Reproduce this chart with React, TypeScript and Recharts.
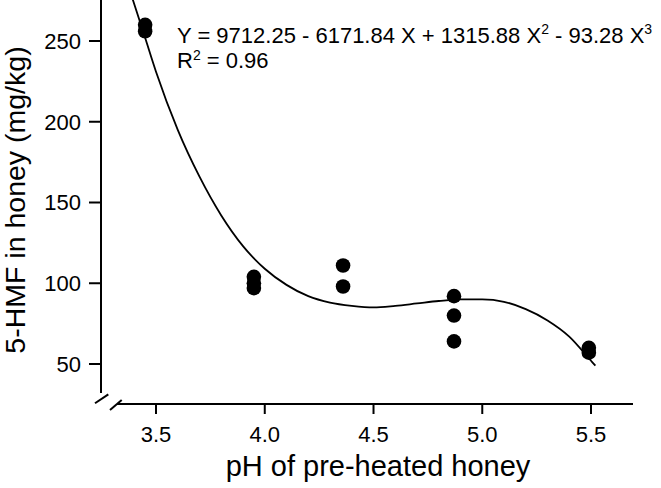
import React from "react";
import {
  ComposedChart,
  XAxis,
  YAxis,
  Scatter,
  ReferenceLine,
  Customized,
} from "recharts";

// Observed samples
const PH_VALUES = [3.45, 3.45, 3.95, 3.95, 3.95, 4.36, 4.36, 4.87, 4.87, 4.87, 5.49, 5.49];
const HMF_VALUES = [260, 256, 104, 100, 97, 111, 98, 92, 80, 64, 60, 57];

// Fitted curve
const CURVE_PH = [3.39, 3.45, 3.5, 3.6, 3.7, 3.8, 3.9, 4.0, 4.1, 4.2, 4.3, 4.4, 4.5, 4.6, 4.7, 4.8, 4.9, 5.0, 5.1, 5.2, 5.3, 5.4, 5.5, 5.52];
const CURVE_HMF = [277, 252, 231, 195, 166, 142, 123, 109, 99, 92, 88, 86, 85, 86, 87.5, 89, 90, 90, 88.5, 84, 77, 67, 52, 49];

const X_TICKS = [3.5, 4.0, 4.5, 5.0, 5.5];
const Y_TICKS = [50, 100, 150, 200, 250];

const X_DOMAIN: [number, number] = [3.2471, 5.693];
const Y_DOMAIN: [number, number] = [25.23, 275.39];

const EQUATION_MAIN = "Y = 9712.25 - 6171.84 X + 1315.88 X";
const EQUATION_MID = " - 93.28 X";
const R2_TEXT = "R";
const R2_VALUE = " = 0.96";
const X_LABEL = "pH of pre-heated honey";
const Y_LABEL = "5-HMF in honey (mg/kg)";

const FONT = "'Liberation Sans', Arial, Helvetica, sans-serif";

const points = PH_VALUES.map((x, i) => ({ x, y: HMF_VALUES[i] }));
const curve = CURVE_PH.map((x, i) => ({ x, y: CURVE_HMF[i] }));

// axis-break geometry, in data units near the corner
const Y_AXIS_BOTTOM = 32.04;
const X_AXIS_LEFT = 3.3207;
const BREAK1 = [
  { x: 3.2195, y: 25.67 },
  { x: 3.2807, y: 31.2 },
];
const BREAK2 = [
  { x: 3.2885, y: 21.52 },
  { x: 3.3423, y: 27.71 },
];

const Dot = (props: any) => {
  const { cx, cy } = props;
  if (cx == null || cy == null) return null;
  return <circle cx={cx} cy={cy} r={7.3} fill="#000" />;
};

const NoDot = () => null;

const Annotations = () => (
  <g fontFamily={FONT} fill="#000">
    <text x={177} y={43} fontSize={22}>
      {EQUATION_MAIN}
      <tspan fontSize={14} dy={-9}>2</tspan>
      <tspan fontSize={22} dy={9}>{EQUATION_MID}</tspan>
      <tspan fontSize={14} dy={-9}>3</tspan>
    </text>
    <text x={177} y={68} fontSize={22}>
      {R2_TEXT}
      <tspan fontSize={14} dy={-8}>2</tspan>
      <tspan fontSize={22} dy={8}>{R2_VALUE}</tspan>
    </text>
    <text
      x={0}
      y={0}
      fontSize={28.5}
      textAnchor="middle"
      transform="translate(25,200) rotate(-90)"
    >
      {Y_LABEL}
    </text>
    <text x={378} y={476} fontSize={29} textAnchor="middle">
      {X_LABEL}
    </text>
  </g>
);

export default function App() {
  return (
    <div style={{ position: "absolute", left: 0, top: 0, background: "#fff" }}>
      <ComposedChart
        width={661}
        height={488}
        margin={{ top: 0, right: 28, bottom: 0, left: 0 }}
      >
        <XAxis
          type="number"
          dataKey="x"
          domain={X_DOMAIN}
          ticks={X_TICKS}
          tickFormatter={(v: number) => v.toFixed(1)}
          allowDataOverflow
          axisLine={false}
          tickSize={10}
          tickMargin={12}
          height={84}
          tickLine={{ stroke: "#000", strokeWidth: 2 }}
          tick={{ fill: "#000", fontSize: 22, fontFamily: FONT }}
        />
        <YAxis
          type="number"
          dataKey="y"
          domain={Y_DOMAIN}
          ticks={Y_TICKS}
          allowDataOverflow
          axisLine={false}
          width={101}
          tickSize={12}
          tickMargin={8}
          tickLine={{ stroke: "#000", strokeWidth: 2 }}
          tick={{ fill: "#000", fontSize: 22, fontFamily: FONT }}
        />
        <ReferenceLine
          segment={[
            { x: X_DOMAIN[0], y: Y_DOMAIN[1] },
            { x: X_DOMAIN[0], y: Y_AXIS_BOTTOM },
          ]}
          stroke="#000"
          strokeWidth={2}
          ifOverflow="visible"
        />
        <ReferenceLine
          segment={[
            { x: X_AXIS_LEFT, y: Y_DOMAIN[0] },
            { x: X_DOMAIN[1], y: Y_DOMAIN[0] },
          ]}
          stroke="#000"
          strokeWidth={2}
          ifOverflow="visible"
        />
        <ReferenceLine segment={BREAK1} stroke="#000" strokeWidth={2} ifOverflow="visible" />
        <ReferenceLine segment={BREAK2} stroke="#000" strokeWidth={2} ifOverflow="visible" />
        <Scatter
          data={curve}
          line={{ stroke: "#000", strokeWidth: 1.8 }}
          lineJointType="monotoneX"
          shape={NoDot}
          isAnimationActive={false}
        />
        <Scatter data={points} shape={Dot} isAnimationActive={false} />
        <Customized component={Annotations} />
      </ComposedChart>
    </div>
  );
}
